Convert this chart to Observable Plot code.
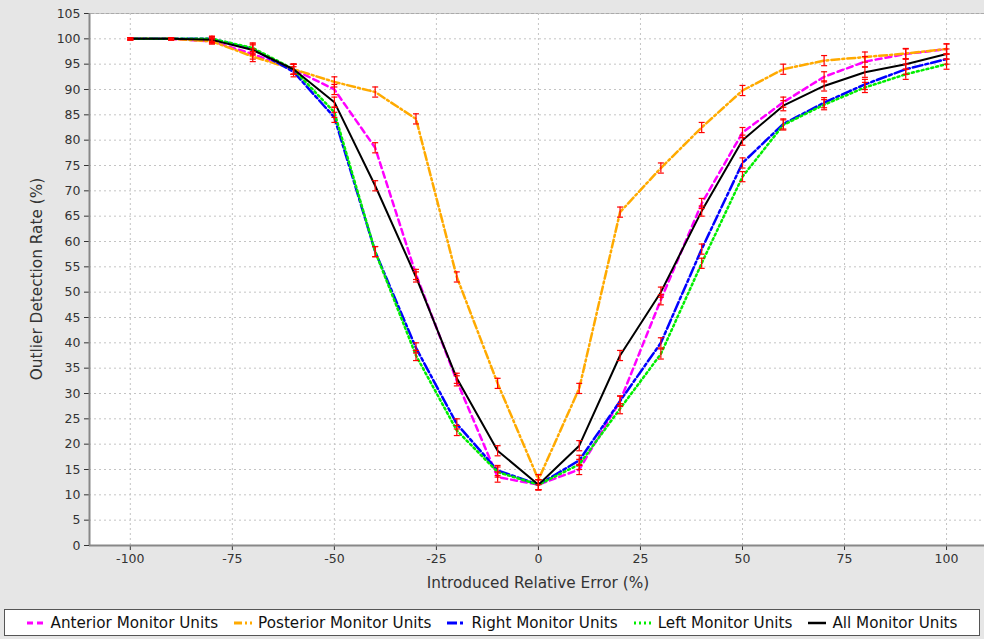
<!DOCTYPE html>
<html><head><meta charset="utf-8">
<script src="https://cdn.jsdelivr.net/npm/d3@7"></script>
<script src="https://cdn.jsdelivr.net/npm/@observablehq/plot@0.6"></script>
<style>
body{margin:0;background:#e6e6e6;font-family:"DejaVu Sans",Verdana,sans-serif;}
#wrap{position:relative;width:984px;height:639px;overflow:hidden;}
#chart{position:absolute;left:0;top:0;}
#ytitle{position:absolute;left:37px;top:279px;transform:translate(-50%,-50%) rotate(-90deg);font-size:15.3px;color:#333;white-space:nowrap;}
#xtitle{position:absolute;left:538px;top:583px;transform:translate(-50%,-50%);font-size:15.3px;color:#333;white-space:nowrap;}
#legend{position:absolute;left:4px;top:609px;width:974px;height:25px;background:#fff;border:1px solid #555;display:flex;align-items:center;justify-content:center;font-size:15.2px;color:#111;}
.item{display:flex;align-items:center;margin:0 8px;white-space:nowrap;}
.item svg{margin-right:6px;}
</style></head>
<body>
<div id="wrap">
  <div id="chart"></div>
  <div id="ytitle">Outlier Detection Rate (%)</div>
  <div id="xtitle">Introduced Relative Error (%)</div>
  <div id="legend"></div>
</div>
<script>
const xValues = [-100,-90,-80,-70,-60,-50,-40,-30,-20,-10,0,10,20,30,40,50,60,70,80,90,100];
const anterior  = [100,100,99.5,97,94,90,78.5,53.5,32.5,13.5,12,15,28.5,48.5,67.5,81.5,87.5,92.5,95.5,97,98];
const posterior = [100,100,99.5,96.5,94,91.5,89.5,84.2,53,32,13,31,65.8,74.5,82.5,89.8,94,95.7,96.4,97.1,98];
const right     = [100,100,100,98,93.5,84.5,58,39,24,14.8,12,16.8,28.5,40,58.5,75.5,83.2,87.4,91,94,96];
const left      = [100,100,100,98.2,94,85.5,58,37.5,22.7,14.5,12,16,27,37.8,55.7,72.8,83,87,90.4,93,95];
const all       = [100,100,99.8,97.8,94,87.5,71,53,33,18.7,12,19.7,37.5,50,66,80,86.8,90.7,93.4,95,97];
const errors    = [0.2,0.2,0.5,1,1,1,1,1,1,1,1,1,1,1,1,1,1,1,1,1,1];
const seriesNames = ["Anterior Monitor Units","Posterior Monitor Units","Right Monitor Units","Left Monitor Units","All Monitor Units"];
const xTicks = [-100,-75,-50,-25,0,25,50,75,100];
const yTicks = d3.range(0,106,5);

const seriesValues = [anterior, posterior, right, left, all];
const styles = [
  {stroke:"#ff00ff", dash:"6,4", width:2.5},
  {stroke:"#ffaa00", dash:"8,3,2,3", width:2.5},
  {stroke:"#0000ff", dash:"10,3,3,3", width:2.5},
  {stroke:"#00ee00", dash:"2,3", width:2.5},
  {stroke:"#000000", dash:null, width:2}
];
const rows = [];
seriesValues.forEach((vals, s) => vals.forEach((v, i) => rows.push({series: seriesNames[s], x: xValues[i], y: v, lo: v - errors[i], hi: v + errors[i]})));

const capSymbol = {draw(ctx, size){ const w = Math.sqrt(size/Math.PI); ctx.moveTo(-w,0); ctx.lineTo(w,0); }};

const lineMarks = seriesNames.map((name, s) => Plot.line(rows.filter(d => d.series === name), {
  x: "x", y: "y", stroke: styles[s].stroke, strokeWidth: styles[s].width,
  strokeDasharray: styles[s].dash, strokeLinejoin: "round"
}));

const chart = Plot.plot({
  width: 984, height: 600,
  marginTop: 13, marginLeft: 89, marginBottom: 55, marginRight: 0,
  style: {background: "transparent", fontFamily: "'DejaVu Sans', Verdana, sans-serif", fontSize: "12.5px", color: "#333"},
  x: {domain: [-110, 109.3], ticks: xTicks, tickSize: 5, tickPadding: 4, tickFormat: d => String(d), label: null},
  y: {domain: [0, 105], ticks: yTicks, tickSize: 5, tickPadding: 4, tickFormat: d => String(d), label: null},
  marks: [
    Plot.frame({fill: "white", stroke: "#aaa"}),
    Plot.ruleX(xTicks, {stroke: "#c4c4c4", strokeDasharray: "2,3"}),
    Plot.ruleY(yTicks.filter(d => d > 0), {stroke: "#c4c4c4", strokeDasharray: "2,3"}),
    ...lineMarks,
    Plot.ruleX(rows, {x: "x", y1: "lo", y2: "hi", stroke: "#ff0000", strokeWidth: 1.2}),
    Plot.dot(rows, {x: "x", y: "lo", symbol: capSymbol, r: 3, stroke: "#ff0000", fill: "none", strokeWidth: 1.2}),
    Plot.dot(rows, {x: "x", y: "hi", symbol: capSymbol, r: 3, stroke: "#ff0000", fill: "none", strokeWidth: 1.2}),
    Plot.ruleX([-110], {stroke: "#888", strokeWidth: 2}),
    Plot.ruleY([0], {stroke: "#888", strokeWidth: 2})
  ]
});
document.getElementById("chart").appendChild(chart);

const legend = document.getElementById("legend");
seriesNames.forEach((name, s) => {
  const item = document.createElement("div");
  item.className = "item";
  const st = styles[s];
  item.innerHTML = `<svg width="18" height="10"><line x1="0" y1="5" x2="18" y2="5" stroke="${st.stroke}" stroke-width="${st.width + 0.5}" ${st.dash ? `stroke-dasharray="${st.dash}"` : ""}/></svg><span>${name}</span>`;
  legend.appendChild(item);
});
</script>
</body></html>
